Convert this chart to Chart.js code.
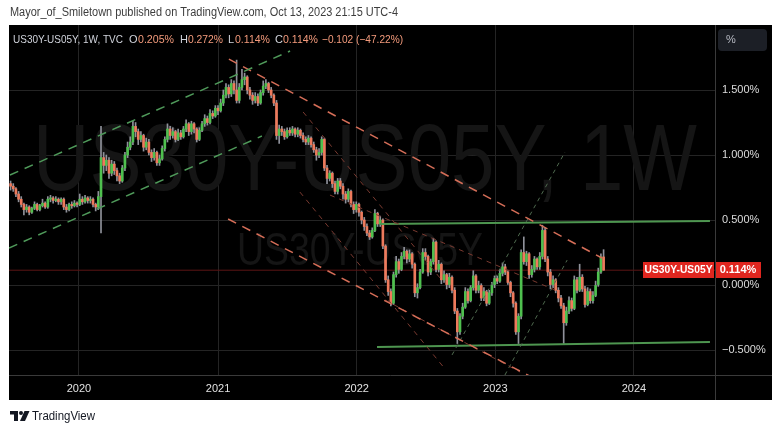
<!DOCTYPE html>
<html>
<head>
<meta charset="utf-8">
<script src="https://cdn.jsdelivr.net/npm/chart.js@4.4.0/dist/chart.umd.min.js"></script>
<style>
  html, body { margin: 0; padding: 0; background: #fff; }
  #wrap { width: 781px; height: 433px; }
</style>
</head>
<body>
<div id="wrap"><canvas id="chart" width="781" height="433"></canvas></div>
<script>
// weekly candles, index 0 = first week of July 2019, values in %
const closes = [
  0.76,0.74,0.70,0.66,0.62, 0.58,0.60,0.56,0.59,0.62,
  0.58,0.61,0.63,0.60,0.66, 0.67,0.65,0.66,0.64,0.66,
  0.60,0.58,0.62,0.61,0.63, 0.62,0.66,0.64,0.67,0.65,
  0.66,0.62,0.60,0.68,0.98, 0.92,0.96,0.86,0.93,0.88,
  0.84,0.80,0.90,1.00,1.06, 1.10,1.22,1.18,1.12,1.15,
  1.06,1.10,1.02,0.98,1.02, 0.94,0.97,1.05,1.12,1.20,
  1.15,1.18,1.12,1.17,1.14, 1.20,1.24,1.18,1.24,1.20,
  1.12,1.19,1.24,1.28,1.25, 1.32,1.30,1.36,1.34,1.40,
  1.46,1.52,1.47,1.55,1.50, 1.42,1.52,1.58,1.60,1.50,
  1.46,1.42,1.45,1.40,1.48, 1.53,1.55,1.50,1.46,1.40,
  1.15,1.20,1.18,1.14,1.19, 1.17,1.20,1.16,1.19,1.15,
  1.12,1.10,1.13,1.08,1.04, 1.00,1.02,1.12,0.90,0.82,
  0.86,0.78,0.72,0.80,0.76, 0.70,0.66,0.72,0.62,0.58,
  0.62,0.56,0.50,0.45,0.40, 0.37,0.42,0.55,0.47,0.50,
  0.30,0.04,-0.05,-0.14,0.08, 0.18,0.12,0.22,0.26,0.20,
  0.24,0.16,-0.06,-0.02,0.10, 0.25,0.22,0.10,0.18,0.33,
  0.12,0.16,0.04,0.08,0.00, 0.06,-0.04,-0.20,-0.36,-0.24,
  -0.17,-0.05,-0.12,-0.02,0.07, -0.04,0.00,-0.10,-0.05,-0.14,
  -0.06,0.00,0.05,0.03,0.09, 0.14,0.10,0.02,-0.06,-0.14,
  -0.36,-0.24,0.25,0.18,0.24, 0.08,0.12,0.20,0.14,0.22,
  0.42,0.20,0.10,0.00,0.04, -0.04,-0.10,-0.16,-0.29,-0.20,
  -0.12,-0.18,0.04,-0.04,0.06, -0.03,-0.15,-0.05,-0.12,-0.08,
  0.00,0.10,0.216,0.114
];
const highs = [
  0.80,0.78,0.75,0.72,0.68, 0.63,0.62,0.61,0.60,0.64,
  0.63,0.62,0.66,0.64,0.68, 0.69,0.68,0.68,0.67,0.67,
  0.67,0.62,0.63,0.64,0.65, 0.64,0.70,0.68,0.69,0.68,
  0.68,0.67,0.63,0.72,1.22, 1.02,1.00,0.98,0.96,0.95,
  0.90,0.86,0.92,1.02,1.10, 1.14,1.26,1.25,1.20,1.18,
  1.16,1.13,1.12,1.04,1.05, 1.03,1.00,1.07,1.14,1.24,
  1.22,1.21,1.19,1.20,1.19, 1.22,1.27,1.25,1.26,1.25,
  1.21,1.21,1.26,1.31,1.30, 1.35,1.34,1.38,1.38,1.43,
  1.50,1.55,1.54,1.58,1.57, 1.73,1.55,1.66,1.63,1.61,
  1.52,1.48,1.48,1.47,1.50, 1.57,1.58,1.56,1.52,1.47,
  1.42,1.23,1.22,1.20,1.21, 1.21,1.22,1.21,1.21,1.20,
  1.17,1.14,1.15,1.14,1.10, 1.06,1.05,1.14,1.13,0.92,
  0.88,0.87,0.80,0.82,0.82, 0.78,0.72,0.74,0.73,0.64,
  0.64,0.63,0.57,0.52,0.47, 0.42,0.44,0.58,0.56,0.53,
  0.51,0.31,0.07,-0.03,0.10, 0.22,0.20,0.25,0.29,0.27,
  0.27,0.25,0.17,0.01,0.12, 0.28,0.28,0.23,0.20,0.36,
  0.34,0.19,0.17,0.11,0.09, 0.09,0.07,-0.02,-0.18,-0.22,
  -0.14,-0.02,-0.03,0.00,0.11, 0.08,0.03,0.01,-0.02,-0.04,
  -0.04,0.02,0.07,0.07,0.12, 0.17,0.16,0.11,0.03,-0.05,
  -0.13,-0.22,0.27,0.37,0.26, 0.25,0.15,0.22,0.21,0.25,
  0.46,0.44,0.22,0.12,0.07, 0.05,-0.02,-0.08,-0.14,-0.17,
  -0.09,-0.10,0.07,0.06,0.16, 0.08,-0.01,-0.02,-0.03,-0.05,
  0.03,0.13,0.24,0.272
];
const lows = [
  0.73,0.72,0.68,0.64,0.60, 0.54,0.56,0.54,0.55,0.58,
  0.57,0.57,0.60,0.59,0.59, 0.64,0.63,0.64,0.62,0.62,
  0.58,0.56,0.57,0.59,0.60, 0.60,0.61,0.62,0.63,0.63,
  0.63,0.60,0.57,0.58,0.40, 0.86,0.88,0.82,0.84,0.85,
  0.80,0.78,0.79,0.88,0.98, 1.04,1.08,1.14,1.08,1.10,
  1.03,1.04,1.00,0.95,0.96, 0.92,0.92,0.96,1.03,1.10,
  1.12,1.13,1.10,1.11,1.12, 1.13,1.18,1.15,1.16,1.17,
  1.10,1.11,1.18,1.22,1.23, 1.24,1.28,1.29,1.31,1.33,
  1.38,1.44,1.44,1.45,1.47, 1.40,1.40,1.50,1.54,1.47,
  1.43,1.39,1.40,1.38,1.39, 1.46,1.51,1.48,1.44,1.38,
  1.12,1.09,1.15,1.12,1.13, 1.15,1.15,1.14,1.14,1.13,
  1.10,1.08,1.08,1.06,1.02, 0.96,0.98,1.00,0.88,0.78,
  0.80,0.75,0.70,0.70,0.74, 0.66,0.63,0.64,0.60,0.55,
  0.56,0.53,0.47,0.42,0.38, 0.35,0.36,0.41,0.45,0.45,
  0.28,0.02,-0.08,-0.16,-0.15, 0.06,0.09,0.11,0.20,0.17,
  0.18,0.13,-0.09,-0.10,-0.03, 0.09,0.19,0.07,0.08,0.16,
  0.10,0.10,0.01,0.02,-0.03, -0.02,-0.06,-0.22,-0.45,-0.38,
  -0.26,-0.18,-0.14,-0.13,-0.04, -0.06,-0.06,-0.12,-0.12,-0.16,
  -0.15,-0.08,-0.02,0.01,0.02, 0.07,0.08,0.00,-0.09,-0.17,
  -0.38,-0.45,-0.26,0.16,0.15, 0.05,0.06,0.10,0.12,0.12,
  0.20,0.18,0.07,-0.03,-0.02, -0.06,-0.13,-0.18,-0.45,-0.31,
  -0.22,-0.20,-0.19,-0.06,-0.05, -0.05,-0.17,-0.16,-0.14,-0.14,
  -0.09,-0.01,0.09,0.114
];
const firstOpen = 0.78;

// last bar as printed in the legend
const legendOHLC = [0.205, 0.272, 0.114, 0.114];
const legendChange = [-0.102, -47.22];

// axis labels
const yearLabels = ['2020', '2021', '2022', '2023', '2024'];
const yearPos = [25.71, 78.0, 130.14, 182.29, 234.43];
const priceTicks = [-0.5, 0, 0.5, 1.0, 1.5];

// drawings: [[week index, %], [week index, %]]
const greenChannelTop = [[-0.23, 0.846], [105.1, 1.80]];
const greenChannelBottom = [[-0.6, 0.285], [94.5, 1.146]];
const redTrendTop = [[82.1, 1.738], [222.4, 0.208]];
const redTrendBottom = [[81.8, 0.508], [201.0, -0.762]];
const redSteepA = [[110.0, 1.331], [161.5, 0.054]];
const redSteepB = [[108.8, 0.715], [163.4, -0.646]];
const redMidA = [[120.1, 0.692], [204.7, -0.038]];
const redMidB = [[140.8, -0.115], [191.6, -0.669]];
const greenRayA = [[166.0, -0.538], [208.5, 1.023]];
const greenRayB = [[185.9, -0.692], [209.3, 0.192]];
const rangeTop = [[138.9, 0.469], [263.0, 0.492]];
const rangeBottom = [[137.8, -0.477], [263.0, -0.438]];

const symbol = 'US30Y-US05Y';
const headerText = 'Mayor_of_Smiletown published on TradingView.com, Oct 13, 2023 21:15 UTC-4';

const FONT = '"Liberation Sans", Arial, sans-serif';
const UP = '#4fc04f';
const DOWN = '#ee7a5c';
const WICK = '#8f919a';

const opens = closes.map((c, i) => (i === 0 ? firstOpen : closes[i - 1]));
const lastClose = closes[closes.length - 1];
const minus = v => (v < 0 ? '\u2212' : '') ;
const pct = v => minus(v) + Math.abs(v).toFixed(3) + '%';

function trend(pts, color, width, dash) {
  return {
    type: 'line',
    data: pts.map(p => ({ x: p[0], y: p[1] })),
    borderColor: color,
    borderWidth: width,
    borderDash: dash,
    pointRadius: 0,
    fill: false,
    tension: 0,
    order: 0
  };
}

const decor = {
  id: 'decor',
  beforeDraw(chart) {
    const ctx = chart.ctx;
    ctx.save();
    ctx.fillStyle = '#ffffff';
    ctx.fillRect(0, 0, chart.width, chart.height);
    ctx.fillStyle = '#000000';
    ctx.fillRect(9, 25, 763, 375);

    ctx.fillStyle = '#3d3d3d';
    ctx.font = '12px ' + FONT;
    ctx.textBaseline = 'middle';
    ctx.fillText(headerText, 10, 13, 388);

    // TradingView footer logo
    ctx.fillStyle = '#131722';
    ctx.fillRect(10, 411, 8, 3.5);
    ctx.fillRect(14, 411, 4, 10);
    ctx.beginPath();
    ctx.arc(21, 413, 2, 0, Math.PI * 2);
    ctx.fill();
    ctx.beginPath();
    ctx.moveTo(24.5, 411);
    ctx.lineTo(29.5, 411);
    ctx.lineTo(25, 421);
    ctx.lineTo(20, 421);
    ctx.closePath();
    ctx.fill();
    ctx.font = '12.5px ' + FONT;
    ctx.fillText('TradingView', 32, 417, 63);
    ctx.restore();
  },
  beforeDatasetsDraw(chart) {
    const { ctx, chartArea: a } = chart;
    ctx.save();
    ctx.beginPath();
    ctx.rect(a.left, a.top, a.right - a.left, a.bottom - a.top);
    ctx.clip();
    ctx.fillStyle = '#151515';
    ctx.textAlign = 'center';
    ctx.textBaseline = 'alphabetic';
    ctx.font = '94px ' + FONT;
    ctx.fillText(symbol + ', 1W', 365, 190, 664);
    ctx.font = '46px ' + FONT;
    ctx.fillText(symbol, 360, 265, 246);
    ctx.restore();
  },
  afterDraw(chart) {
    const { ctx, chartArea: a } = chart;
    ctx.save();
    // pane separators
    ctx.strokeStyle = '#3a3a3a';
    ctx.lineWidth = 1;
    ctx.beginPath();
    ctx.moveTo(a.right + 0.5, a.top);
    ctx.lineTo(a.right + 0.5, 400);
    ctx.moveTo(9, a.bottom + 0.5);
    ctx.lineTo(772, a.bottom + 0.5);
    ctx.stroke();

    // legend row
    ctx.textBaseline = 'middle';
    ctx.font = '11px ' + FONT;
    const light = '#d1d4dc';
    const val = '#f49b7c';
    const y0 = 40;
    const parts = [
      [symbol + ', 1W, TVC', 13, light, 110],
      ['O', 129, light, 9], [pct(legendOHLC[0]), 138, val, 36],
      ['H', 180, light, 9], [pct(legendOHLC[1]), 188, val, 35],
      ['L', 228, light, 7], [pct(legendOHLC[2]), 235, val, 35],
      ['C', 275, light, 8], [pct(legendOHLC[3]), 283, val, 35],
      [minus(legendChange[0]) + Math.abs(legendChange[0]).toFixed(3) + ' (' + minus(legendChange[1]) + Math.abs(legendChange[1]).toFixed(2) + '%)', 322, val, 81]
    ];
    parts.forEach(p => { ctx.fillStyle = p[2]; ctx.fillText(p[0], p[1], y0, p[3]); });

    // % button
    ctx.fillStyle = '#1c1f26';
    ctx.beginPath();
    ctx.roundRect(718, 29, 49, 22, 4);
    ctx.fill();
    ctx.fillStyle = '#b8bbc4';
    ctx.fillText('%', 726, 40);

    // last price label
    const py = Math.round(chart.scales.y.getPixelForValue(lastClose));
    ctx.fillStyle = '#e0261f';
    ctx.fillRect(643, py - 8, 71, 16);
    ctx.fillRect(716, py - 8, 45, 16);
    ctx.fillStyle = '#ffffff';
    ctx.font = 'bold 11px ' + FONT;
    ctx.textAlign = 'center';
    ctx.fillText(symbol, 678.5, py, 68);
    ctx.fillText(lastClose.toFixed(3) + '%', 738, py, 42);
    ctx.restore();
  }
};

new Chart(document.getElementById('chart'), {
  type: 'bar',
  data: {
    datasets: [
      trend(greenChannelTop, '#4f9a5a', 1.5, [9, 7]),
      trend(greenChannelBottom, '#4f9a5a', 1.5, [9, 7]),
      trend(redTrendTop, '#d66e58', 1.5, [9, 7]),
      trend(redTrendBottom, '#d66e58', 1.5, [9, 7]),
      trend(redSteepA, '#7a3a30', 1, [5, 5]),
      trend(redSteepB, '#7a3a30', 1, [5, 5]),
      trend(redMidA, '#7a3a30', 1, [5, 5]),
      trend(redMidB, '#7a3a30', 1, [5, 5]),
      trend(greenRayA, '#4f6a4f', 1, [4, 4]),
      trend(greenRayB, '#4f6a4f', 1, [4, 4]),
      trend(rangeTop, '#4e9650', 2, []),
      trend(rangeBottom, '#4e9650', 2, []),
      {
        type: 'line',
        data: [{ x: -0.6, y: lastClose }, { x: 264.9, y: lastClose }],
        borderColor: '#5c1515',
        borderWidth: 1,
        pointRadius: 0,
        order: 3
      },
      {
        type: 'bar',
        data: closes.map((c, i) => ({ x: i, y: [opens[i], c] })),
        backgroundColor: closes.map((c, i) => (c >= opens[i] ? UP : DOWN)),
        barThickness: 2,
        minBarLength: 1,
        grouped: false,
        order: 1
      },
      {
        type: 'bar',
        data: lows.map((l, i) => ({ x: i, y: [l, highs[i]] })),
        backgroundColor: WICK,
        barThickness: 1,
        grouped: false,
        order: 2
      }
    ]
  },
  options: {
    responsive: false,
    animation: false,
    devicePixelRatio: 1,
    layout: { padding: { left: 9, right: 9, top: 25, bottom: 33 } },
    plugins: { legend: { display: false }, tooltip: { enabled: false } },
    scales: {
      x: {
        type: 'linear',
        min: -0.6,
        max: 264.9,
        offset: false,
        grid: { color: '#242424', offset: false, drawTicks: false },
        border: { display: false },
        ticks: {
          color: '#e2e2e2',
          font: { size: 11, family: FONT },
          padding: 7,
          maxRotation: 0,
          autoSkip: false,
          callback: (v, i) => yearLabels[i]
        },
        afterBuildTicks: ax => { ax.ticks = yearPos.map(v => ({ value: v })); },
        afterFit: ax => { ax.height = 25; }
      },
      y: {
        type: 'linear',
        position: 'right',
        min: -0.692,
        max: 2.0,
        grid: { color: '#242424', drawTicks: false },
        border: { display: false },
        ticks: {
          color: '#dcdcdc',
          font: { size: 11, family: FONT },
          padding: 7,
          callback: v => pct(v)
        },
        afterBuildTicks: ax => { ax.ticks = priceTicks.map(v => ({ value: v })); },
        afterFit: ax => { ax.width = 57; }
      }
    }
  },
  plugins: [decor]
});
</script>
</body>
</html>
